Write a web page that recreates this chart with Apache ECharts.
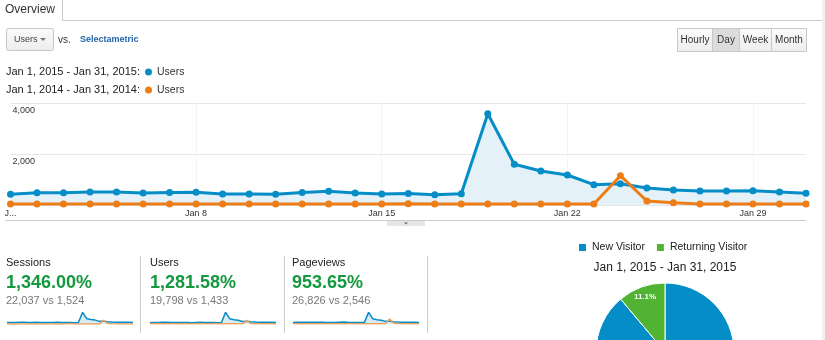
<!DOCTYPE html>
<html><head><meta charset="utf-8">
<script src="https://cdn.jsdelivr.net/npm/echarts@6/dist/echarts.min.js"></script>
<style>html,body{margin:0;padding:0;background:#fff}#c{width:825px;height:340px}</style>
</head><body><div id="c"></div>
<script>
const days = ['Jan 1','Jan 2','Jan 3','Jan 4','Jan 5','Jan 6','Jan 7','Jan 8','Jan 9','Jan 10','Jan 11','Jan 12','Jan 13','Jan 14','Jan 15','Jan 16','Jan 17','Jan 18','Jan 19','Jan 20','Jan 21','Jan 22','Jan 23','Jan 24','Jan 25','Jan 26','Jan 27','Jan 28','Jan 29','Jan 30','Jan 31'];
const users2015 = [420,483,483,510,510,470,490,500,430,430,420,490,537,470,430,450,405,443,3580,1595,1333,1176,797,837,667,588,549,549,560,510,458];
const users2014 = [40,40,40,40,40,40,40,40,40,40,40,40,40,40,40,50,40,40,40,40,40,40,40,1150,157,90,40,40,40,40,40];
const sessions2015 = [470,540,540,570,570,520,545,555,480,480,470,545,600,520,480,500,450,495,3900,1770,1480,1310,890,930,745,655,610,610,625,570,510];
const sessions2014 = [42,42,42,42,42,42,42,42,42,42,42,42,42,42,42,52,42,42,42,42,42,42,42,1210,165,95,42,42,42,42,42];
const pageviews2015 = [600,680,690,720,710,660,690,700,610,600,590,690,750,660,610,640,570,630,4600,2050,1720,1520,1050,1090,880,780,720,720,740,680,610];
const pageviews2014 = [70,70,70,70,70,70,70,70,70,70,70,70,70,70,70,85,70,70,70,70,70,70,70,1950,270,150,70,70,70,70,70];
const visitorTypes = ['New Visitor','Returning Visitor'];
const visitorShares = [88.9,11.1];
const yTicks = [0,2000,4000];
const cards = [
  {name:'Sessions', pct:'1,346.00%', cmp:'22,037 vs 1,524'},
  {name:'Users', pct:'1,281.58%', cmp:'19,798 vs 1,433'},
  {name:'Pageviews', pct:'953.65%', cmp:'26,826 vs 2,546'}
];
const periods = ['Jan 1, 2015 - Jan 31, 2015:','Jan 1, 2014 - Jan 31, 2014:'];
const buttons = ['Hourly','Day','Week','Month'];

const BLUE = '#058dc7', ORANGE = '#ed7e17', GREEN = '#50b432';
const FONT = 'Liberation Sans, Arial, sans-serif';
const chart = echarts.init(document.getElementById('c'));

const labelInterval = (i) => i % 7 === 0;

const sparkX = [7, 150, 293];
const sparkData = [[sessions2015, sessions2014],[users2015, users2014],[pageviews2015, pageviews2014]];

const grids = [{left:10.5, right:19, top:103, height:102}];
const xAxes = [{
  type:'category', data:days, boundaryGap:false, gridIndex:0,
  axisLine:{show:false}, axisTick:{show:false},
  axisLabel:{interval:(i)=>labelInterval(i), formatter:(v,i)=> i===0 ? 'J...' : v, fontSize:9, color:'#333', margin:4, fontFamily:FONT},
  splitLine:{show:true, interval:(i)=>labelInterval(i)&&i>0, lineStyle:{color:'#f4f4f4', width:1}}
}];
const yAxes = [{
  type:'value', gridIndex:0, min:yTicks[0], max:yTicks[2], interval:yTicks[1]-yTicks[0],
  axisLine:{show:false}, axisTick:{show:false},
  axisLabel:{inside:true, showMinLabel:false, fontSize:9, color:'#333', margin:2, verticalAlign:'top', padding:[3,0,0,0], fontFamily:FONT, formatter:(v)=>v.toLocaleString('en-US')},
  splitLine:{lineStyle:{color:'#e6e6e6'}}
}];
const series = [
  {type:'line', xAxisIndex:0, yAxisIndex:0, data:users2015, symbol:'circle', symbolSize:7, lineStyle:{width:3, color:BLUE}, itemStyle:{color:BLUE}, areaStyle:{color:'#e4f1f8', opacity:1}, z:2},
  {type:'line', xAxisIndex:0, yAxisIndex:0, data:users2014, symbol:'circle', symbolSize:7, lineStyle:{width:3, color:ORANGE}, itemStyle:{color:ORANGE}, z:3}
];
sparkData.forEach((d, k) => {
  const gi = k + 1;
  grids.push({left:sparkX[k], width:126, top:311, height:13});
  xAxes.push({type:'category', gridIndex:gi, data:days, boundaryGap:false, show:false});
  yAxes.push({type:'value', gridIndex:gi, min:0, max:(e)=>e.max*1.12, show:false});
  series.push({type:'line', xAxisIndex:gi, yAxisIndex:gi, data:d[0], symbol:'none', lineStyle:{width:1.5, color:BLUE}, areaStyle:{color:'#d9ecf6', opacity:1}, z:2});
  series.push({type:'line', xAxisIndex:gi, yAxisIndex:gi, data:d[1], symbol:'none', lineStyle:{width:1.5, color:'#e9a060'}, z:3});
});
const pieData = visitorTypes.map((n,i)=>({name:n, value:visitorShares[i]}));
series.push({type:'pie', center:[665,352], radius:[0,69], startAngle:90, clockwise:true, data:pieData,
  label:{show:false}, labelLine:{show:false}, itemStyle:{borderColor:'#fff', borderWidth:1}, color:[BLUE,GREEN], silent:true});
series.push({type:'pie', center:[665,352], radius:[42,69], startAngle:90, clockwise:true, data:pieData, silent:true,
  itemStyle:{color:'rgba(0,0,0,0)'}, labelLine:{show:false},
  label:{show:true, position:'inside', formatter:(p)=>p.value.toFixed(1)+'%', color:'#fff', fontSize:8, fontWeight:'bold', fontFamily:FONT}, legendHoverLink:false, tooltip:{show:false}});

const g = [];
// tab
g.push({type:'text', left:5, top:4, style:{text:'Overview', fontSize:12, fill:'#333', fontFamily:FONT}});
g.push({type:'line', shape:{x1:62.5,y1:0,x2:62.5,y2:20}, style:{stroke:'#ccc', lineWidth:1}});
g.push({type:'line', shape:{x1:62,y1:20.5,x2:822,y2:20.5}, style:{stroke:'#ccc', lineWidth:1}});
g.push({type:'rect', shape:{x:822,y:0,width:3,height:340}, style:{fill:'#f1f1f1'}});
// dropdown
g.push({type:'rect', shape:{x:6.5,y:28.5,width:47,height:22,r:2}, style:{fill:new echarts.graphic.LinearGradient(0,0,0,1,[{offset:0,color:'#fbfbfb'},{offset:1,color:'#ededed'}]), stroke:'#c8c8c8'}});
g.push({type:'text', x:14, y:40, style:{text:'Users', fontSize:9, fill:'#444', verticalAlign:'middle', fontFamily:FONT}});
g.push({type:'polygon', shape:{points:[[40,38],[46,38],[43,41]]}, style:{fill:'#777'}});
g.push({type:'text', x:58, y:40, style:{text:'vs.', fontSize:10, fill:'#333', verticalAlign:'middle', fontFamily:FONT}});
g.push({type:'text', x:80, y:40, style:{text:'Selectametric', fontSize:9, fontWeight:'bold', fill:'#2065a8', verticalAlign:'middle', fontFamily:FONT}});
// buttons
const bx = [677,712,739,771,806];
buttons.forEach((b,i)=>{
  const sel = b === 'Day';
  g.push({type:'rect', shape:{x:bx[i]+0.5,y:28.5,width:bx[i+1]-bx[i],height:23}, style:{fill: sel ? '#dcdcdc' : new echarts.graphic.LinearGradient(0,0,0,1,[{offset:0,color:'#fbfbfb'},{offset:1,color:'#ededed'}]), stroke:'#c8c8c8'}});
  g.push({type:'text', x:(bx[i]+bx[i+1])/2+0.5, y:40, style:{text:b, fontSize:10, fill:'#333', align:'center', verticalAlign:'middle', fontFamily:FONT}});
});
// series legend
[BLUE, ORANGE].forEach((c,i)=>{
  const y = 72 + i*18;
  g.push({type:'text', x:6, y:y, style:{text:periods[i], fontSize:11, fill:'#222', verticalAlign:'middle', fontFamily:FONT}});
  g.push({type:'circle', shape:{cx:148.5, cy:y, r:3.5}, style:{fill:c}});
  g.push({type:'text', x:157, y:y, style:{text:'Users', fontSize:10.5, fill:'#333', verticalAlign:'middle', fontFamily:FONT}});
});
// x axis bottom line + handle
g.push({type:'line', shape:{x1:5,y1:220.5,x2:806,y2:220.5}, style:{stroke:'#ccc'}});
g.push({type:'rect', shape:{x:387,y:221,width:38,height:5}, style:{fill:'#e6e6e6'}});
g.push({type:'polygon', shape:{points:[[404,222.5],[408,222.5],[406,224.5]]}, style:{fill:'#666'}});
// cards
const cx = [6,150,292];
cards.forEach((c,i)=>{
  g.push({type:'text', x:cx[i], y:263, style:{text:c.name, fontSize:11, fill:'#222', verticalAlign:'middle', fontFamily:FONT}});
  g.push({type:'text', x:cx[i], y:283, style:{text:c.pct, fontSize:18, fontWeight:'bold', fill:'#14993f', verticalAlign:'middle', fontFamily:FONT}});
  g.push({type:'text', x:cx[i], y:301, style:{text:c.cmp, fontSize:11, fill:'#777', verticalAlign:'middle', fontFamily:FONT}});
});
[140.5,284.5,427.5].forEach(x=>g.push({type:'line', shape:{x1:x,y1:256,x2:x,y2:333}, style:{stroke:'#ccc'}}));
// pie title
g.push({type:'text', x:665, y:268, style:{text:'Jan 1, 2015 - Jan 31, 2015', fontSize:12, fill:'#222', align:'center', verticalAlign:'middle', fontFamily:FONT}});

chart.setOption({
  animation:false,
  textStyle:{fontFamily:FONT},
  color:[BLUE,GREEN],
  grid:grids, xAxis:xAxes, yAxis:yAxes, series:series,
  legend:{data:visitorTypes, seriesIndex:series.length-2, left:577, top:242, padding:0, icon:'rect', itemWidth:9, itemHeight:9, itemGap:10, textStyle:{fontSize:10.5, color:'#222', fontFamily:FONT}, selectedMode:false},
  graphic:g
});
</script></body></html>
